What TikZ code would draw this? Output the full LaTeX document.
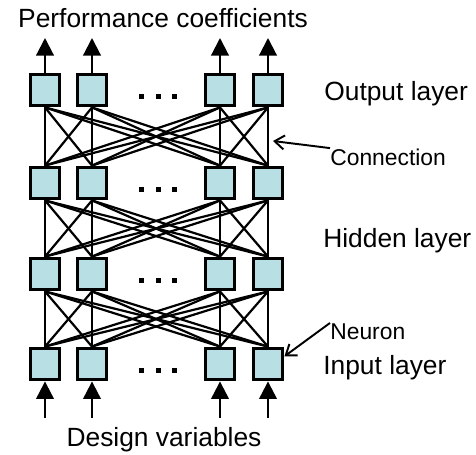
\documentclass[tikz,border=0pt]{standalone}
\usepackage{fontspec}
\setmainfont{Liberation Sans}
\usetikzlibrary{arrows.meta}
\definecolor{neuronfill}{RGB}{184,223,227}

\begin{document}
\begin{tikzpicture}[x=0.02cm, y=-0.02cm,
    neuron/.style={draw, line width=1.9pt, fill=neuronfill, minimum width=0.59cm, minimum height=0.63cm, inner sep=0pt},
    link/.style={line width=1.25pt},
    io/.style={line width=1.25pt, -{Triangle[width=10pt, length=10pt]}},
    pointer/.style={line width=1.1pt, -{Straight Barb[width=8pt, length=5.5pt]}},
    biglbl/.style={font=\fontsize{15}{18}\selectfont, inner sep=0pt},
    smalllbl/.style={font=\fontsize{13}{16}\selectfont, inner sep=0pt}]
    \useasboundingbox (0,0) rectangle (476,454);

    % --- neurons, row 1 = output, row 4 = input ---
    \foreach \r/\y in {1/90,2/183,3/274,4/364}
      \foreach \c/\x in {1/45,2/92,3/220,4/268}
        \node[neuron] (n\r\c) at (\x,\y) {};

    % --- full connections between neighbouring layers ---
    \foreach \r/\s in {1/2,2/3,3/4}
      \foreach \a in {1,...,4}
        \foreach \b in {1,...,4}
          \draw[link] (n\r\a.south) -- (n\s\b.north);

    % dots for the left-out neurons
    \foreach \y in {90,183,274,364}
      \foreach \x in {141,158,174}
        \fill (\x-2.5,\y+4) rectangle ++(5,5);

    % --- outputs and inputs ---
    \foreach \c/\x in {1/45,2/92,3/220,4/268}{
        \coordinate (out\c) at (\x,38);
        \coordinate (in\c) at (\x,418);
        \draw[io] (n1\c.north) -- (out\c);
        \draw[io] (in\c) -- (n4\c.south);
    }

    % --- labels ---
    \node[biglbl, anchor=base] (perf) at (163,27) {Performance coefficients};
    \node[biglbl, anchor=base] (design) at (164,446) {Design variables};
    \node[biglbl, anchor=base west] (outlbl) at (324,100) {Output layer};
    \node[biglbl, anchor=base west] (hidlbl) at (323,247) {Hidden layer};
    \node[biglbl, anchor=base west] (inlbl) at (323,374) {Input layer};
    \node[smalllbl, anchor=base west] (conn) at (330,165) {Connection};
    \node[smalllbl, anchor=base west] (neur) at (330,339) {Neuron};

    \coordinate (conntip) at (273,141);
    \draw[pointer] (conn.north west) -- (conntip);
    \draw[pointer] (neur.north west) -- (n44.25);
\end{tikzpicture}
\end{document}
